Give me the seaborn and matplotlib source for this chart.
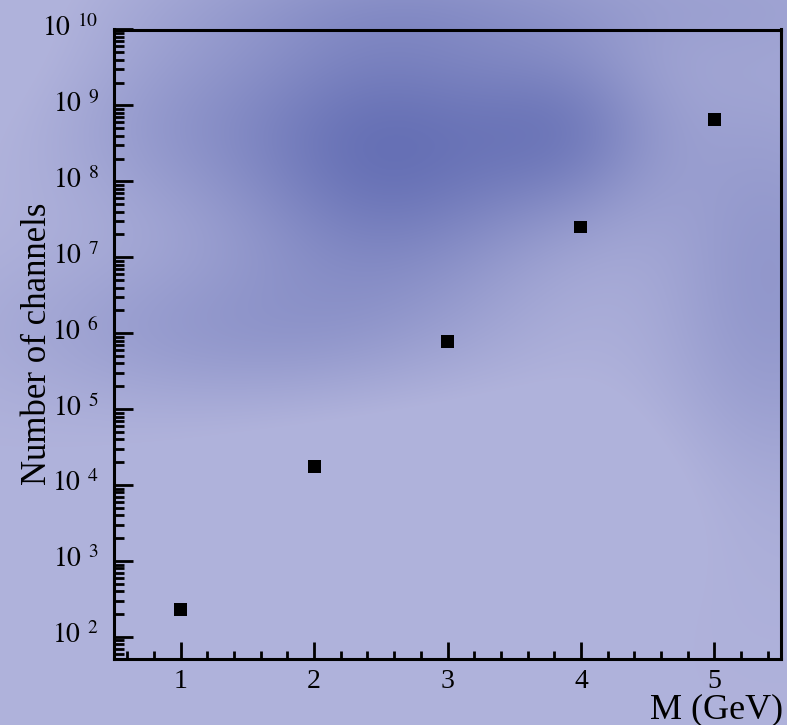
import numpy as np
import matplotlib
matplotlib.use("Agg")
import matplotlib.pyplot as plt
import matplotlib.ticker as mticker
import matplotlib.transforms as mtransforms
import pandas as pd
import seaborn as sns

# Channel counts versus mass
mass_gev = [1, 2, 3, 4, 5]
n_channels = [232, 1.74e4, 7.7e5, 2.5e7, 6.6e8]
decade_exponents = [2, 3, 4, 5, 6, 7, 8, 9, 10]

sns.set_theme(style="ticks")
plt.rcParams["font.family"] = ["Liberation Serif", "DejaVu Serif"]
plt.rcParams["mathtext.fontset"] = "stix"

W, H, DPI = 787, 725, 100
fig = plt.figure(figsize=(W / DPI, H / DPI), dpi=DPI)

# Cloudy blue backdrop over the whole canvas
yy, xx = np.mgrid[0:H, 0:W].astype(float)
light = np.array([0.69, 0.70, 0.86])
dark = np.array([0.40, 0.44, 0.71])

def blob(cx, cy, rx, ry, amp):
    return amp * np.exp(-(((xx - cx) / rx) ** 2 + ((yy - cy) / ry) ** 2))

shade = (blob(390, 150, 160, 140, 0.95) + blob(570, 130, 100, 90, 0.55)
         + blob(230, 330, 220, 80, 0.35) + blob(770, 280, 110, 220, 0.40)
         + blob(170, 120, 140, 100, 0.30) + blob(500, 0, 400, 60, 0.25)
         - blob(460, 490, 260, 100, 0.20) - blob(0, 0, 150, 150, 0.15))
shade = np.clip(shade, 0, 1)
bg = light[None, None, :] * (1 - shade[..., None]) + dark[None, None, :] * shade[..., None]
bg_ax = fig.add_axes([0, 0, 1, 1], zorder=-10)
bg_ax.imshow(bg, aspect="auto", interpolation="bilinear")
bg_ax.set_axis_off()

left, right, top, bottom = 114, 781, 29.5, 659
ax = fig.add_axes([left / W, 1 - bottom / H, (right - left) / W, (bottom - top) / H])
ax.patch.set_alpha(0)

df = pd.DataFrame({"M": mass_gev, "N": n_channels})
sns.scatterplot(data=df, x="M", y="N", marker="s", s=85, color="black",
                edgecolor="none", ax=ax, zorder=5)

ax.set_yscale("log")
ax.set_xlim(0.5, 5.5)
ax.set_ylim(10 ** 1.71, 1e10)

ax.xaxis.set_major_locator(mticker.MultipleLocator(1))
ax.xaxis.set_minor_locator(mticker.MultipleLocator(0.2))
ax.yaxis.set_major_locator(mticker.FixedLocator([10.0 ** e for e in decade_exponents]))
ax.yaxis.set_minor_locator(mticker.LogLocator(base=10, subs=np.arange(2, 10), numticks=20))
ax.yaxis.set_minor_formatter(mticker.NullFormatter())
ax.yaxis.set_major_formatter(mticker.FuncFormatter(
    lambda v, p: r"$10^{\,\,\,%d}$" % int(round(np.log10(v)))))
ax.xaxis.set_major_formatter(mticker.FuncFormatter(lambda v, p: "%d" % v))

for s in ax.spines.values():
    s.set_linewidth(2.2)
    s.set_color("black")

ax.tick_params(axis="both", which="both", direction="in", color="black",
               top=False, right=False, labelsize=20, labelcolor="black")
ax.tick_params(axis="y", which="major", length=14, width=2, pad=11)
ax.tick_params(axis="y", which="minor", length=7, width=2)
ax.tick_params(axis="x", which="major", length=12, width=2, pad=7)
ax.tick_params(axis="x", which="minor", length=6, width=2)

# keep the mantissa on the tick line, exponent raised above it
lift = mtransforms.ScaledTranslation(0, 3 / 72, fig.dpi_scale_trans)
for tick in ax.yaxis.get_major_ticks():
    tick.label1.set_transform(tick.label1.get_transform() + lift)

ax.set_xlabel("M (GeV)", fontsize=26, color="black")
ax.xaxis.set_label_coords(1.003, -0.054)
ax.xaxis.label.set_horizontalalignment("right")
ax.set_ylabel("Number of channels", fontsize=25, color="black")
ax.yaxis.set_label_coords(-0.090, 0.5)

fig.savefig("out.png", dpi=DPI)
